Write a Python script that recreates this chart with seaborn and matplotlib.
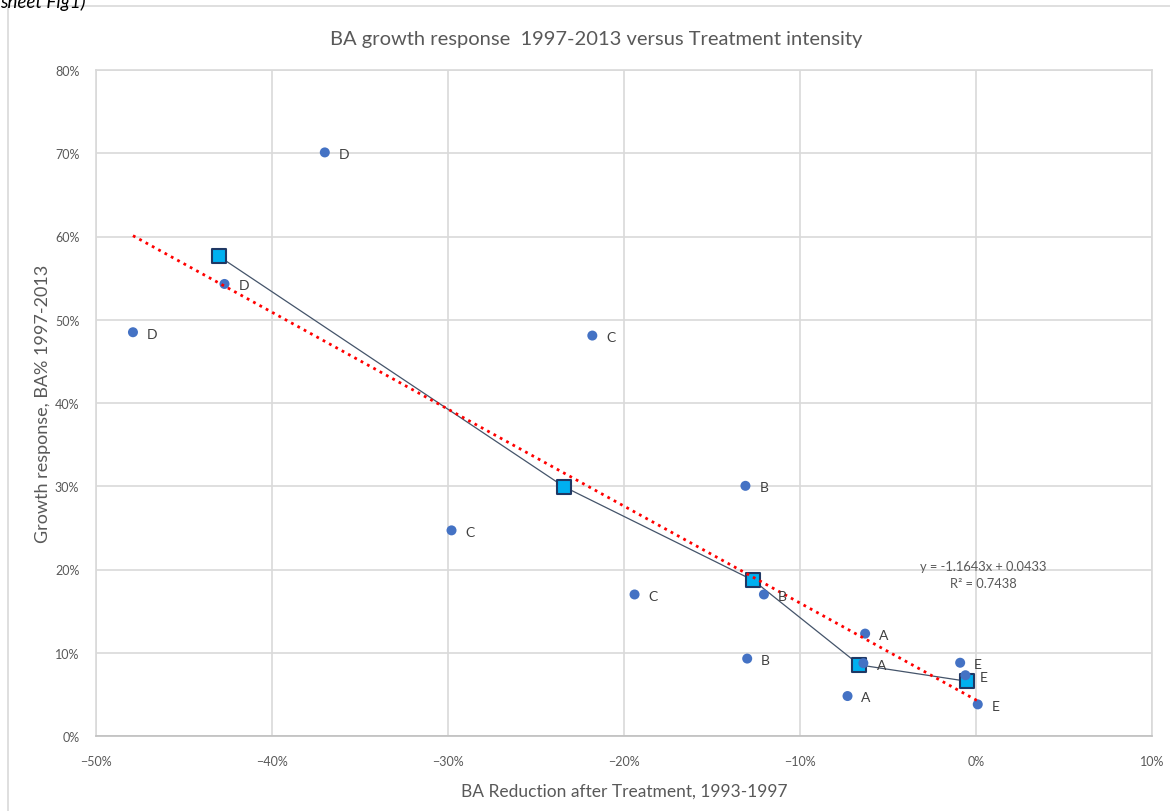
import numpy as np
import pandas as pd
import matplotlib
matplotlib.use("Agg")
import matplotlib.pyplot as plt
from matplotlib.patches import Rectangle
from matplotlib.ticker import PercentFormatter
import seaborn as sns

# Stand treatments and their measurements
treatment = ["D", "D", "D", "C", "C", "C", "B", "B", "B", "A", "A", "A", "E", "E", "E"]
ba_reduction = [-0.370, -0.427, -0.479, -0.218, -0.298, -0.194, -0.131, -0.1205, -0.130,
                -0.063, -0.064, -0.073, -0.009, -0.006, 0.001]
growth_response = [0.701, 0.543, 0.485, 0.481, 0.247, 0.170, 0.3005, 0.170, 0.093,
                   0.123, 0.0875, 0.048, 0.088, 0.073, 0.038]

# Treatment averages (connected series)
avg_treatment = ["D", "C", "B", "A", "E"]
avg_reduction = [-0.430, -0.234, -0.1265, -0.0663, -0.0053]
avg_growth = [0.576, 0.2993, 0.1869, 0.0854, 0.0658]

# Linear trend reported on the chart
trend_slope = -1.1643
trend_intercept = 0.0433
trend_r2 = 0.7438

x_ticks = [-0.5, -0.4, -0.3, -0.2, -0.1, 0.0, 0.1]
y_ticks = [0.0, 0.1, 0.2, 0.3, 0.4, 0.5, 0.6, 0.7, 0.8]

df = pd.DataFrame({"treatment": treatment, "x": ba_reduction, "y": growth_response})
means = pd.DataFrame({"treatment": avg_treatment, "x": avg_reduction, "y": avg_growth})

sns.set_style("white")
plt.rcParams["font.family"] = ["Lato", "DejaVu Sans"]

GREY_TEXT = "#595959"
GRID = "#d9d9d9"

fig = plt.figure(figsize=(11.7, 8.12), dpi=100)
ax = fig.add_axes([96 / 1170, 1 - 737 / 812, (1152 - 96) / 1170, (737 - 71) / 812])

# outer chart frame
fig.patches.append(Rectangle((8 / 1170, -0.1), 1.2, 1 - 7 / 812 + 0.1,
                             transform=fig.transFigure, fill=False,
                             edgecolor=GRID, linewidth=1.2, zorder=0))
fig.text(0.0, 1 - 8 / 812, "sheet Fig1)", fontsize=13.5, style="italic",
         color="black", ha="left", va="baseline")

ax.set_xlim(-0.5, 0.1)
ax.set_ylim(0.0, 0.8)
ax.set_xticks(x_ticks)
ax.set_yticks(y_ticks)
ax.xaxis.set_major_formatter(PercentFormatter(1.0, decimals=0))
ax.yaxis.set_major_formatter(PercentFormatter(1.0, decimals=0))
ax.grid(True, color=GRID, linewidth=1.2, zorder=0)
ax.set_axisbelow(True)
for side, sp in ax.spines.items():
    sp.set_color(GRID)
    sp.set_linewidth(1.2)
ax.spines["bottom"].set_color("#bfbfbf")
ax.tick_params(length=0, labelsize=9, labelcolor=GREY_TEXT)
ax.tick_params(axis="x", pad=14)
ax.tick_params(axis="y", pad=12)

# treatment averages connected in order of intensity
ax.plot(means["x"], means["y"], color="#44546A", linewidth=0.9, zorder=2)
sns.scatterplot(data=means, x="x", y="y", marker="s", s=105, color="#00B0F0",
                edgecolor="#1F3864", linewidth=1.5, ax=ax, zorder=3)

# individual stands
sns.scatterplot(data=df, x="x", y="y", s=52, color="#4472C4", edgecolor="none",
                ax=ax, zorder=4)
for _, r in df.iterrows():
    ax.annotate(r["treatment"], (r["x"], r["y"]), xytext=(10, -1),
                textcoords="offset points", ha="left", va="center",
                fontsize=10, color="#404040", zorder=5)

# linear trend across all stands
tx = np.array([df["x"].min(), df["x"].max()])
ax.plot(tx, trend_slope * tx + trend_intercept, color="#FF0000", linestyle=(0, (1, 1.6)),
        linewidth=2.0, zorder=4)
ax.text(0.0042, 0.1935, f"y = {trend_slope:.4f}x + {trend_intercept:.4f}\nR² = {trend_r2:.4f}",
        ha="center", va="center", fontsize=9.3, color=GREY_TEXT, linespacing=1.5, zorder=5)

ax.set_xlabel("BA Reduction after Treatment, 1993-1997", fontsize=12.5, color=GREY_TEXT, labelpad=11)
ax.set_ylabel("Growth response, BA% 1997-2013", fontsize=13, color=GREY_TEXT, labelpad=3)
fig.text(596 / 1170, 1 - 39 / 812, "BA growth response  1997-2013 versus Treatment intensity",
         ha="center", va="center", fontsize=14.5, color=GREY_TEXT)

fig.savefig("out.png", dpi=100)
